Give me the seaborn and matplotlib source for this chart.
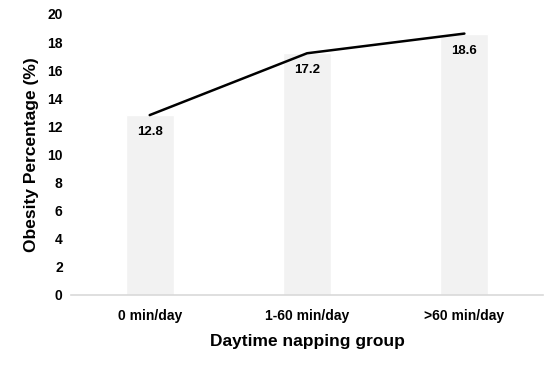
import pandas as pd
import seaborn as sns
import matplotlib.pyplot as plt

sns.set_theme(style='white')
plt.rcParams['font.family'] = ['Liberation Sans', 'DejaVu Sans']
plt.rcParams['text.color'] = 'black'
plt.rcParams['axes.labelcolor'] = 'black'

groups = ['0 min/day', '1-60 min/day', '>60 min/day']
obesity = [12.8, 17.2, 18.6]

df = pd.DataFrame({'group': groups, 'obesity': obesity})

fig = plt.figure(figsize=(5.57, 3.66), dpi=100)
ax = fig.add_axes([0.1275, 0.194, 0.8475, 0.768])

sns.barplot(x='group', y='obesity', data=df, color='#F2F2F2', width=0.305,
            saturation=1, ax=ax)
sns.lineplot(x=range(len(groups)), y=df['obesity'], color='black', linewidth=1.8, ax=ax)

# value labels just under each bar top
for i, v in enumerate(obesity):
    ax.annotate(f'{v}', (i, v), xytext=(0, -17), textcoords='offset pixels',
                ha='center', va='center', fontsize=9.5, fontweight='bold', color='black')

ax.set_ylim(0, 20)
ax.set_yticks(range(0, 21, 2))
ax.set_xlim(-0.5, 2.5)
for s in ['top', 'right', 'left']:
    ax.spines[s].set_visible(False)
ax.spines['bottom'].set_color('#D9D9D9')
ax.spines['bottom'].set_linewidth(1.2)
ax.tick_params(axis='both', length=0, labelsize=10, colors='black')
ax.tick_params(axis='x', pad=10)
ax.tick_params(axis='y', pad=6)
for lab in ax.get_xticklabels() + ax.get_yticklabels():
    lab.set_fontweight('bold')

ax.set_xlabel('Daytime napping group', fontsize=12.5, fontweight='bold', labelpad=8)
ax.set_ylabel('Obesity Percentage (%)', fontsize=12.5, fontweight='bold', labelpad=6)

fig.savefig('out.png', dpi=100)
